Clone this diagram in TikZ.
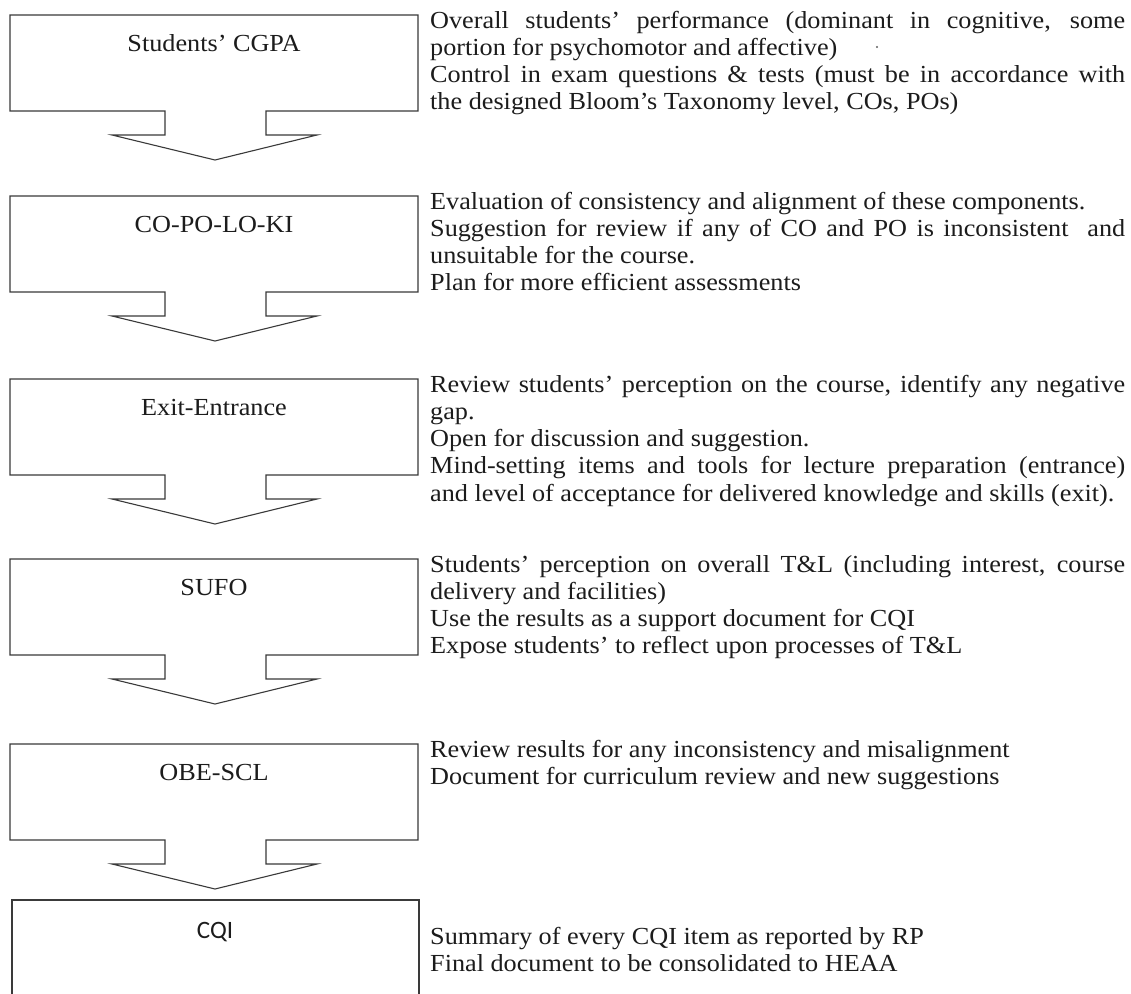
\documentclass[tikz,border=0pt]{standalone}
\usepackage{fontspec}
\setmainfont{Liberation Serif}[FakeStretch=1.07]
\newfontfamily\cqifont{Carlito}
\definecolor{ink}{HTML}{1C1C1C}
\definecolor{linegray}{HTML}{3A3A3A}
\newlength\dw
\setlength\dw{695pt}
\newcommand\jl[1]{\hbox to\dw{#1}}
\newcommand\nl[1]{\hbox{#1}}
\newcommand\lines[1]{\vtop{\baselineskip=27.3pt\lineskiplimit=-20pt #1}}
\newcommand\callout[3]{%
  \begin{scope}[yshift=-#1pt]
    \draw[boxline] (10,0) -- (418,0) -- (418,96) -- (266,96) -- (266,120)
      -- (317,120) -- (215,145) -- (112,120) -- (165,120) -- (165,96)
      -- (10,96) -- cycle;
    \node[lbl] (#2) at (214,36) {#3};
  \end{scope}}
\begin{document}
\begin{tikzpicture}[x=1pt,y=-1pt,
  boxline/.style={draw=linegray, line width=1.1pt, line join=miter},
  lbl/.style={anchor=base, inner sep=0pt, font=\fontsize{24.5}{27}\selectfont, text=ink},
  desc/.style={anchor=base west, inner sep=0pt, font=\fontsize{24.5}{27.3}\selectfont, text=ink}]
\useasboundingbox[fill=white] (0,0) rectangle (1131,993);

\callout{15}{cgpa}{Students’ CGPA}
\callout{196}{copo}{CO-PO-LO-KI}
\callout{379}{exit}{Exit-Entrance}
\callout{559}{sufo}{SUFO}
\callout{744}{obe}{OBE-SCL}

% last box, running off the bottom edge
\draw[boxline] (12,996) -- (12,900) -- (419,900) -- (419,996);
\node[lbl, font=\cqifont\fontsize{25}{27}\selectfont] (cqi) at (215,938) {CQI};

\node[desc] (d1) at (430,28) {\lines{%
  \jl{Overall students’ performance (dominant in cognitive, some}
  \nl{portion for psychomotor and affective)}
  \jl{Control in exam questions \& tests (must be in accordance with}
  \nl{the designed Bloom’s Taxonomy level, COs, POs)}}};
\fill[ink!70] (877,47) circle (1.1);

\node[desc] (d2) at (430,209) {\lines{%
  \nl{Evaluation of consistency and alignment of these components.}
  \jl{Suggestion for review if any of CO and PO is inconsistent\ \ and}
  \nl{unsuitable for the course.}
  \nl{Plan for more efficient assessments}}};

\node[desc] (d3) at (430,392) {\lines{%
  \jl{Review students’ perception on the course, identify any negative}
  \nl{gap.}
  \nl{Open for discussion and suggestion.}
  \jl{Mind-setting items and tools for lecture preparation (entrance)}
  \nl{and level of acceptance for delivered knowledge and skills (exit).}}};

\node[desc] (d4) at (430,572) {\lines{%
  \jl{Students’ perception on overall T\&L (including interest, course}
  \nl{delivery and facilities)}
  \nl{Use the results as a support document for CQI}
  \nl{Expose students’ to reflect upon processes of T\&L}}};

\node[desc] (d5) at (430,757) {\lines{%
  \nl{Review results for any inconsistency and misalignment}
  \nl{Document for curriculum review and new suggestions}}};

\node[desc] (d6) at (430,944) {\lines{%
  \nl{Summary of every CQI item as reported by RP}
  \nl{Final document to be consolidated to HEAA}}};
\end{tikzpicture}
\end{document}
